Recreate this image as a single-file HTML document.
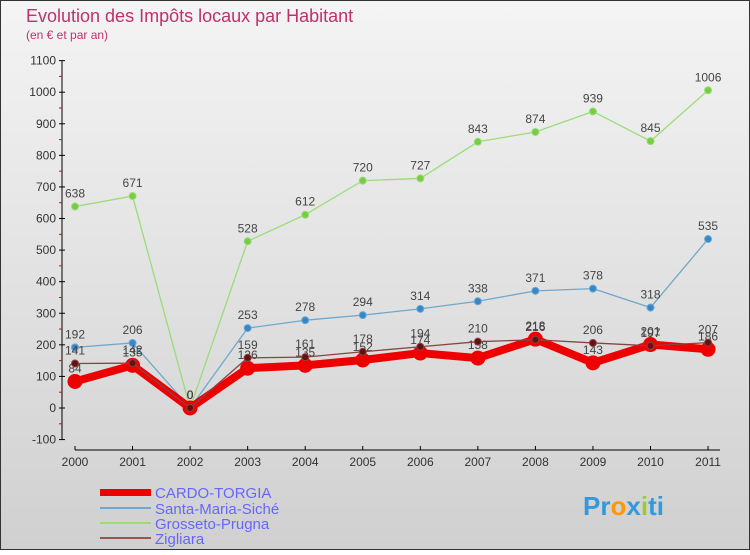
<!DOCTYPE html>
<html><head><meta charset="utf-8"><style>
body{margin:0;width:750px;height:550px;overflow:hidden;font-family:"Liberation Sans",sans-serif}
svg text{font-family:"Liberation Sans",sans-serif}
</style></head><body>
<svg id="c" width="750" height="550" xmlns="http://www.w3.org/2000/svg">
<defs><linearGradient id="bg" x1="0" y1="0" x2="0" y2="1"><stop offset="0" stop-color="#f4f4f4"/><stop offset="1" stop-color="#d0d0d0"/></linearGradient></defs>
<rect x="0.5" y="0.5" width="749" height="549" fill="url(#bg)" stroke="#333"/>
<text x="26" y="22" font-size="18" fill="#c0306a">Evolution des Impôts locaux par Habitant</text>
<text x="26" y="39" font-size="12" fill="#c0306a">(en € et par an)</text>
<g id="axes"></g><g id="series"></g>
<g>
<rect x="100" y="489" width="51" height="7" fill="#e00"/>
<text x="155" y="498" font-size="15" fill="#6666ff">CARDO-TORGIA</text>
<line x1="100" y1="508" x2="151" y2="508" stroke="#6fa8cc" stroke-width="2"/>
<text x="155" y="514" font-size="15" fill="#6666ff">Santa-Maria-Siché</text>
<line x1="100" y1="523" x2="151" y2="523" stroke="#99dd77" stroke-width="2"/>
<text x="155" y="529" font-size="15" fill="#6666ff">Grosseto-Prugna</text>
<line x1="100" y1="538" x2="151" y2="538" stroke="#995555" stroke-width="2"/>
<text x="155" y="544" font-size="15" fill="#6666ff">Zigliara</text>
</g>
<text x="583" y="515" font-size="26" font-weight="bold" fill="#3399dd">Pr<tspan fill="#f90">o</tspan>x<tspan fill="#9c3">i</tspan>ti</text>
</svg>
<script>
const years=[2000,2001,2002,2003,2004,2005,2006,2007,2008,2009,2010,2011];
const cardo=[84,135,0,126,135,152,174,158,218,143,201,186];
const santa=[192,206,0,253,278,294,314,338,371,378,318,535];
const grosseto=[638,671,0,528,612,720,727,843,874,939,845,1006];
const zigliara=[141,142,0,159,161,178,194,210,216,206,197,207];
const yTicks=[-100,0,100,200,300,400,500,600,700,800,900,1000,1100];
const NS="http://www.w3.org/2000/svg";
const X=i=>75+i*57.55, Y=v=>408-v*0.3158;
function mk(t,a,p){const e=document.createElementNS(NS,t);for(const k in a)e.setAttribute(k,a[k]);p.appendChild(e);return e;}
const ax=document.getElementById('axes');
mk('line',{x1:62,y1:Y(1100),x2:62,y2:Y(-100),stroke:'#000'},ax);
mk('line',{x1:75,y1:450,x2:720,y2:450,stroke:'#000'},ax);
yTicks.forEach(v=>{
 mk('line',{x1:59,y1:Y(v),x2:65,y2:Y(v),stroke:'#000'},ax);
 if(v<1100) mk('line',{x1:59,y1:Y(v+50),x2:62,y2:Y(v+50),stroke:'#e00'},ax);
 const t=mk('text',{x:56,y:Y(v)+4,'font-size':12,'text-anchor':'end',fill:'#333'},ax);t.textContent=v;
 
 
});
years.forEach((y,i)=>{
 mk('line',{x1:X(i),y1:446,x2:X(i),y2:450,stroke:'#000'},ax);
 const t=mk('text',{x:X(i),y:466,'font-size':12,'text-anchor':'middle',fill:'#333'},ax);t.textContent=y;
 
 
});
const sg=document.getElementById('series');
function draw(name,vals,col,dot,w,r){
 const g=mk('g',{},sg);
 
 
 mk('polyline',{points:vals.map((v,i)=>X(i)+','+Y(v)).join(' '),fill:'none',stroke:col,'stroke-width':w,'stroke-linejoin':'round'},g);
 vals.forEach((v,i)=>{
  const c=mk('circle',{cx:X(i),cy:Y(v),r:r,fill:dot,stroke:col,'stroke-width':1},g);
  
  
  const t=mk('text',{x:X(i),y:Y(v)-9,'font-size':12,'text-anchor':'middle',fill:'#444'},g);t.textContent=v;
  
  
 });
}
draw('series-grosseto',grosseto,'#99dd77','#77cc44',1.3,3.5);
draw('series-santa',santa,'#6fa8cc','#3388cc',1.3,3.5);
draw('series-cardo',cardo,'#ee0000','#ee0000',8,7);
draw('series-zigliara',zigliara,'#884444','#661111',1.3,3.5);
</script>
</body></html>
